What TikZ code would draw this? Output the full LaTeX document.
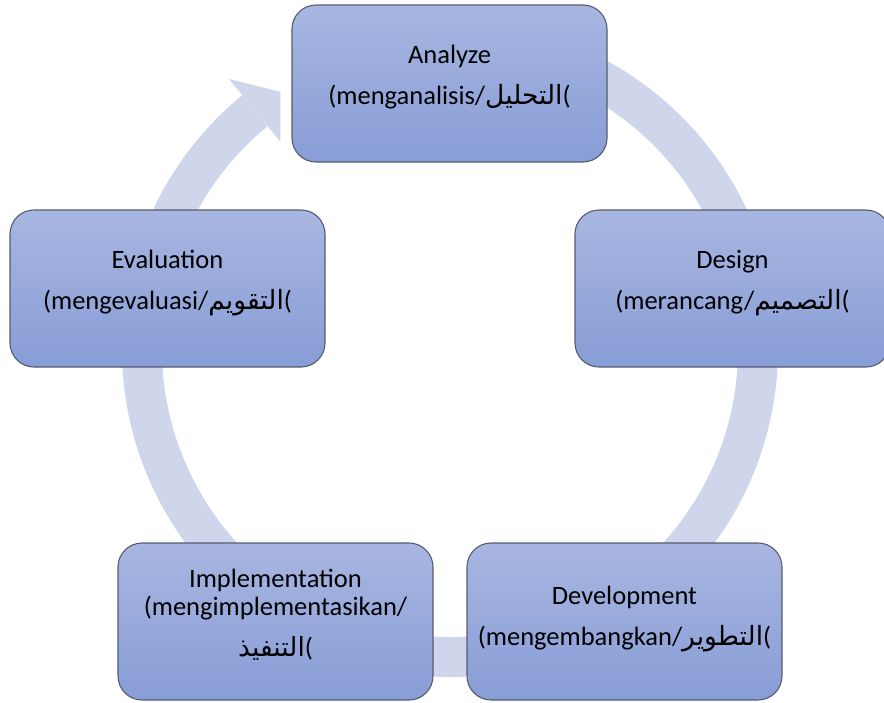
\documentclass[tikz,border=0pt]{standalone}
\usepackage{fontspec}
\setmainfont{Carlito}
\newfontfamily\arabicfont[Script=Arabic]{DejaVu Sans}
\TeXXeTstate=1
\definecolor{ringcol}{RGB}{207,213,234}
\definecolor{boxtop}{RGB}{168,182,225}
\definecolor{boxbot}{RGB}{136,157,214}
\definecolor{boxline}{RGB}{85,92,110}
\newcommand{\ar}[1]{{\arabicfont\beginR #1\endR}}
\begin{document}
\begin{tikzpicture}[x=1pt,y=-1pt,
  stagebox/.style={rounded corners=24pt, minimum width=315pt, minimum height=157pt,
    top color=boxtop, bottom color=boxbot, draw=boxline, line width=1.1pt, inner sep=0pt},
  stagetext/.style={align=center, inner sep=0pt, font=\fontsize{26.5}{41}\selectfont, text=black},
  ringline/.style={draw=ringcol, line width=40pt},
  ringhead/.style={fill=ringcol, draw=none}]
\useasboundingbox (0,0) rectangle (884,702);
\clip (0,0) rectangle (884,702);
\coordinate (c) at (450,349);
% ring
\draw[ringline] ([shift={(-80:308)}]c) arc[start angle=-80, end angle=230.7, radius=308];
\fill[ringhead, shift={(450,349)}] (230.7:349) -- (236.6:308) -- (230.7:268) -- cycle;
% boxes
\node[stagebox] (analyze) at (449.5,83.5) {};
\node[stagebox] (design) at (732.5,288.5) {};
\node[stagebox] (develop) at (624.5,621.5) {};
\node[stagebox] (implement) at (275.5,621.5) {};
\node[stagebox] (evaluate) at (167.5,288.5) {};
% texts
\node[stagetext] (analyzet) at ([yshift=6pt]analyze.center) {Analyze\\(menganalisis/\ar{التحليل}(};
\node[stagetext] (designt) at ([yshift=5pt]design.center) {Design\\(merancang/\ar{التصميم}(};
\node[stagetext] (developt) at ([yshift=2pt]develop.center) {Development\\(mengembangkan/\ar{التطوير}(};
\node[stagetext] (implementt) at ([yshift=7pt]implement.center) {Implementation\\[-13pt](mengimplementasikan/\\\ar{التنفيذ}(};
\node[stagetext] (evaluatet) at ([yshift=5pt]evaluate.center) {Evaluation\\(mengevaluasi/\ar{التقويم}(};
\end{tikzpicture}
\end{document}
